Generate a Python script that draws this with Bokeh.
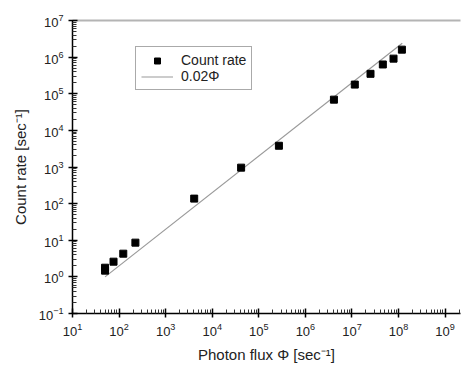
from bokeh.plotting import figure
from bokeh.models import LogAxis, FixedTicker, Legend, LegendItem, Range1d
from bokeh.embed import file_html
from bokeh.resources import INLINE

# data
flux = [50, 50, 76, 123, 224, 4100, 41700, 2.7e5, 4.1e6, 1.15e7, 2.5e7, 4.6e7, 7.8e7, 1.18e8]
count_rate = [1.78, 1.48, 2.6, 4.3, 8.6, 137, 960, 3800, 6.9e4, 1.78e5, 3.5e5, 6.3e5, 9.1e5, 1.6e6]
fit_flux = [50, 1.2e8]
fit_rate = [1.0, 2.4e6]

x_ticks = [1e1, 1e2, 1e3, 1e4, 1e5, 1e6, 1e7, 1e8, 1e9]
y_ticks = [1e-1, 1e0, 1e1, 1e2, 1e3, 1e4, 1e5, 1e6, 1e7]
minor_mult = [2, 3, 4, 5, 6, 7, 8, 9]

FONT = "Liberation Sans"

p = figure(width=461, height=367, x_axis_type="log", y_axis_type="log",
           x_range=Range1d(10, 10 ** 9.33), y_range=Range1d(0.1, 1e7),
           output_backend="svg", toolbar_location=None,
           min_border_left=72, min_border_right=1, min_border_top=20, min_border_bottom=54)
p.outline_line_color = None
p.xgrid.visible = False
p.ygrid.visible = False
p.background_fill_color = "white"
p.border_fill_color = "white"

x_minor = [m * t for t in [1e0] + x_ticks for m in minor_mult]
y_minor = [m * t for t in [1e-2] + y_ticks for m in minor_mult]

for ax, ticks, minor in ((p.xaxis[0], x_ticks, x_minor), (p.yaxis[0], y_ticks, y_minor)):
    ax.ticker = FixedTicker(ticks=ticks, minor_ticks=minor)
    ax.axis_line_color = "black"
    ax.axis_line_width = 1.5
    ax.major_tick_line_color = "black"
    ax.minor_tick_line_color = "#333333"
    ax.major_tick_line_width = 1.5
    ax.minor_tick_line_width = 1
    ax.major_tick_in = 5
    ax.major_tick_out = 4
    ax.minor_tick_in = 4
    ax.minor_tick_out = 0
    ax.major_label_text_font = FONT
    ax.major_label_text_font_size = "13px"
    ax.major_label_text_color = "#222222"
    ax.axis_label_text_font = FONT
    ax.axis_label_text_font_size = "15px"
    ax.axis_label_text_font_style = "normal"
    ax.axis_label_text_color = "#222222"
    ax.major_label_standoff = 5

p.xaxis[0].axis_label = "Photon flux \u03a6 [sec\u207b\u00b9]"
p.yaxis[0].axis_label = "Count rate [sec\u207b\u00b9]"
p.xaxis[0].axis_label_standoff = 7
p.yaxis[0].axis_label_standoff = 7

top = LogAxis(ticker=FixedTicker(ticks=[], minor_ticks=[]),
              axis_line_color="#b4b4b4", axis_line_width=2,
              major_tick_line_color=None, minor_tick_line_color=None)
p.add_layout(top, "above")

ln = p.line(fit_flux, fit_rate, line_color="#999999", line_width=1.2)
sc = p.scatter(flux, count_rate, marker="square", size=7, fill_color="black", line_color="black")

legend = Legend(items=[LegendItem(label="Count rate", renderers=[sc]),
                       LegendItem(label="0.02\u03a6", renderers=[ln])],
                location=(63, 223), padding=5, spacing=0, margin=0,
                glyph_width=32, glyph_height=15, label_height=15, label_standoff=8,
                label_text_font=FONT, label_text_font_size="14px", label_text_color="#222222",
                border_line_color="#555555", border_line_width=1,
                background_fill_color="white", background_fill_alpha=1)
p.add_layout(legend, "center")

open("out.html", "w").write(file_html(p, INLINE))
